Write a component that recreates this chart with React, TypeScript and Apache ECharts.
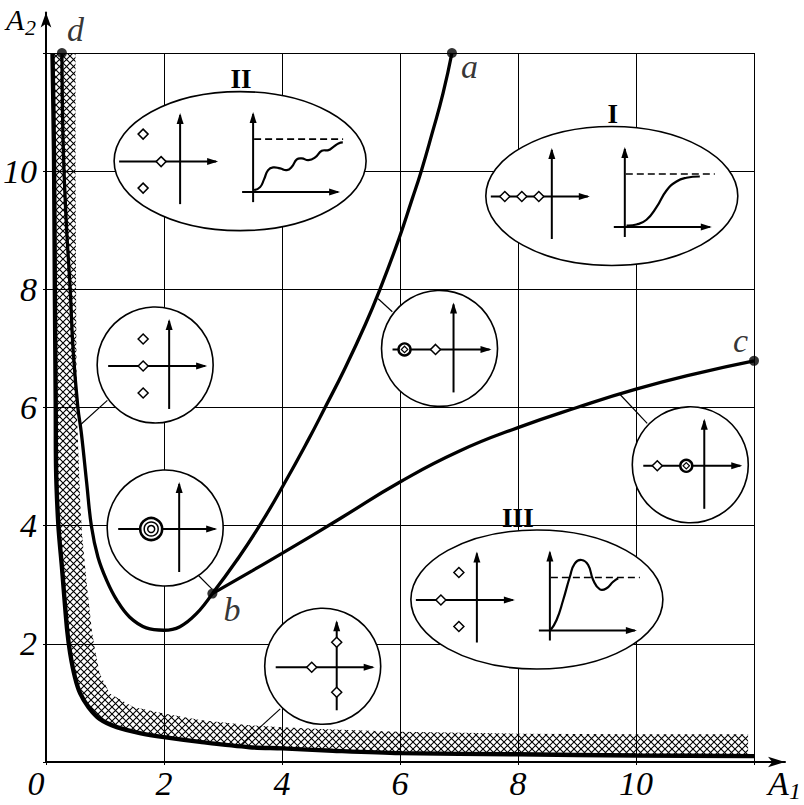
import React, { useEffect, useRef } from 'react';
import * as echarts from 'echarts';

// ---- axis ticks ----
const xTickLabels = [0, 2, 4, 6, 8, 10];
const yTickLabels = [2, 4, 6, 8, 10];

// ---- stability boundary (thick hyperbola-like curve) ----
const boundaryX = [0.11, 0.135, 0.15, 0.165, 0.17, 0.21, 0.27, 0.31, 0.36, 0.41, 0.49, 0.58, 0.72, 0.91, 1.2, 1.59, 2.0, 2.61, 3.45, 4.0, 4.86, 6.0, 8.0, 10.0, 12.0];
const boundaryY = [12.0, 10.35, 8.0, 6.0, 5.0, 4.0, 3.3, 2.8, 2.22, 1.84, 1.44, 1.16, 0.93, 0.73, 0.59, 0.49, 0.42, 0.34, 0.25, 0.23, 0.19, 0.15, 0.13, 0.11, 0.1];

// ---- upper edge of the hatched band ----
const hatchTopX = [0.15, 0.5, 0.5, 0.51, 0.52, 0.58, 0.61, 0.69, 0.78, 0.84, 0.91, 1.08, 1.48, 2.0, 2.61, 3.45, 4.0, 4.86, 6.0, 8.0, 10.0, 11.9, 11.9];
const hatchTopY = [12.0, 12.0, 10.0, 8.0, 6.0, 4.4, 3.87, 3.02, 2.2, 1.85, 1.5, 1.16, 0.93, 0.82, 0.71, 0.62, 0.59, 0.55, 0.51, 0.48, 0.47, 0.47, 0.1];

// ---- curve d - b ----
const curveDBX = [0.27, 0.29, 0.34, 0.41, 0.46, 0.54, 0.6, 0.69, 0.77, 0.88, 1.03, 1.2, 1.42, 1.7, 2.0, 2.27, 2.55, 2.82];
const curveDBY = [12.0, 10.5, 9.2, 8.0, 6.97, 6.0, 5.56, 4.72, 3.99, 3.47, 3.07, 2.74, 2.45, 2.27, 2.23, 2.29, 2.51, 2.85];

// ---- curve b - a ----
const curveBAX = [2.82, 3.23, 3.62, 4.02, 4.45, 4.73, 5.07, 5.41, 5.66, 5.98, 6.2, 6.36, 6.55, 6.73, 6.88];
const curveBAY = [2.85, 3.41, 4.0, 4.68, 5.46, 6.0, 6.67, 7.4, 8.0, 8.85, 9.51, 10.0, 10.66, 11.32, 12.0];

// ---- curve b - c ----
const curveBCX = [2.82, 3.5, 4.0, 5.0, 6.0, 7.0, 8.0, 9.0, 10.0, 11.0, 12.0];
const curveBCY = [2.85, 3.24, 3.53, 4.13, 4.74, 5.26, 5.66, 6.0, 6.31, 6.57, 6.79];

// ---- labelled end points ----
const pointNames = ['a', 'b', 'c', 'd'];
const pointX = [6.88, 2.82, 12.0, 0.27];
const pointY = [12.0, 2.85, 6.79, 12.0];

// ---- insets (centres in data units) ----
const insetKinds = ['II', 'I', 'III', 'poles3', 'ring3', 'ringLeft', 'ringRight', 'imag'];
const insetX = [3.29, 9.59, 8.32, 1.85, 2.02, 6.67, 10.92, 4.69];
const insetY = [10.17, 9.58, 2.75, 6.72, 3.96, 7.0, 5.03, 1.62];

// ---- leader lines from curves to insets ----
const leaderX1 = [1.04, 2.58, 5.87, 10.19, 3.97];
const leaderY1 = [6.12, 3.16, 7.62, 5.73, 0.9];
const leaderX2 = [0.575, 2.81, 5.63, 9.73, 3.29];
const leaderY2 = [5.7, 2.93, 7.84, 6.22, 0.28];

const K = '#000';
const SERIF = 'Liberation Serif, serif';

const zip = (xs: number[], ys: number[]) => xs.map((x, i) => [x, ys[i]]);

const ln = (x1: number, y1: number, x2: number, y2: number, w = 2, dash?: number[]) => ({
  type: 'line',
  shape: { x1, y1, x2, y2 },
  style: { stroke: K, lineWidth: w, lineDash: dash, fill: null },
});
const arR = (x: number, y: number) => ({
  type: 'polygon',
  shape: { points: [[x, y], [x - 11, y - 3.5], [x - 11, y + 3.5]] },
  style: { fill: K },
});
const arU = (x: number, y: number) => ({
  type: 'polygon',
  shape: { points: [[x, y], [x - 3.5, y + 11], [x + 3.5, y + 11]] },
  style: { fill: K },
});
const dia = (x: number, y: number, h = 5, w = 1.5) => ({
  type: 'polygon',
  shape: { points: [[x, y - h], [x + h, y], [x, y + h], [x - h, y]] },
  style: { fill: '#fff', stroke: K, lineWidth: w },
});
const ring = (x: number, y: number, r: number, w: number) => ({
  type: 'circle',
  shape: { cx: x, cy: y, r },
  style: { fill: '#fff', stroke: K, lineWidth: w },
});
const curve = (pts: number[][]) => ({
  type: 'polyline',
  shape: { points: pts, smooth: 0.5 },
  style: { stroke: K, lineWidth: 2.2, fill: null },
});
const label = (t: string, x: number, y: number) => ({
  type: 'text',
  style: {
    text: t, x, y, fill: K,
    font: 'bold 27px ' + SERIF,
    textAlign: 'center', textVerticalAlign: 'middle', align: 'center', verticalAlign: 'middle',
  },
});

// glyph shapes of the small step-response sketches (local pixel offsets inside an ellipse)
const stepII = [[14, 29], [20, 26], [24, 18], [28, 9], [33, 6.3], [40, 7.3], [46.7, 9], [51.7, 5.7], [56.7, -1.7], [61.7, -2.7], [68.3, -1], [75, -3.7], [81.7, -10.3], [88.3, -11], [93.3, -14.3], [98.3, -17.7], [102.7, -18.7]];
const stepI = [[14.7, 29.5], [24.7, 28.5], [34.7, 23.8], [44.7, 11.2], [54.7, -5.5], [64.7, -14.5], [74.7, -18.2], [88, -19.5]];
const stepIII = [[13.7, 30.5], [19.7, 20.5], [26.3, 0.5], [33, -22.8], [38, -36.2], [44.7, -39.5], [51.3, -34.5], [56.3, -19.5], [63, -10.2], [69.7, -11.2], [76.3, -17.8], [81.3, -21.2]];

function ellipseInset(name: string, labelDx: number, poles: any[], step: number[][]) {
  return [
    { type: 'ellipse', shape: { cx: 0, cy: 0, rx: 126, ry: 69.5 }, style: { fill: '#fff', stroke: K, lineWidth: 1.6 } },
    label(name, labelDx, -82),
    // pole plane
    ln(-121, 0.5, -24, 0.5), arR(-22, 0.5),
    ln(-60, 43, -60, -46), arU(-60, -48),
    ...poles,
    // step response plane
    ln(13, 41, 13, -47), arU(13, -49),
    ln(2, 31, 98, 31), arR(100, 31),
    ln(14, -22, 103, -22, 1.6, [7, 4]),
    curve(step),
  ];
}
function circleInset(extra: any[]) {
  return [
    { type: 'circle', shape: { cx: 0, cy: 0, r: 58 }, style: { fill: '#fff', stroke: K, lineWidth: 1.6 } },
    ln(-47, 1, 50, 1), arR(52, 1),
    ln(14, 44, 14, -44), arU(14, -46),
    ...extra,
  ];
}
function buildInset(kind: string) {
  switch (kind) {
    case 'II':
      return ellipseInset('II', 1, [dia(-79, 0.5), dia(-97, -27), dia(-97, 27)], stepII);
    case 'I':
      return ellipseInset('I', 1, [dia(-107, 0.5), dia(-90, 0.5), dia(-73, 0.5)], stepI);
    case 'III':
      return ellipseInset('III', -19, [dia(-96, 0.5), dia(-78, -27), dia(-78, 27)], stepIII);
    case 'poles3':
      return circleInset([dia(-12, 1), dia(-12, -26), dia(-12, 28)]);
    case 'ring3':
      return circleInset([ring(-14, 1, 11, 2.6), ring(-14, 1, 7, 1.5), ring(-14, 1, 3.5, 1.5)]);
    case 'ringLeft':
      return circleInset([ring(-35, 1, 6, 2.4), dia(-35, 1, 3.2, 1.2), dia(-4, 1)]);
    case 'ringRight':
      return circleInset([dia(-33, 1), ring(-4, 1, 6, 2.4), dia(-4, 1, 3.2, 1.2)]);
    case 'imag':
    default:
      return circleInset([dia(-11, 1), dia(14, -24), dia(14, 26)]);
  }
}

export default function App() {
  const ref = useRef<HTMLDivElement>(null);
  useEffect(() => {
    const chart = echarts.init(ref.current!, null, { renderer: 'svg' });

    const cv = document.createElement('canvas');
    cv.width = 7;
    cv.height = 7;
    const g = cv.getContext('2d')!;
    g.strokeStyle = '#000';
    g.lineWidth = 1.1;
    g.beginPath();
    g.moveTo(-1, -1); g.lineTo(8, 8);
    g.moveTo(8, -1); g.lineTo(-1, 8);
    g.stroke();
    const hatchPattern: any = { image: cv, repeat: 'repeat', imageWidth: 7, imageHeight: 7 };

    const hatchPoly = [
      ...zip(hatchTopX, hatchTopY),
      ...zip(boundaryX, boundaryY).filter((p) => p[0] < 11.9).reverse(),
    ];

    const tickFont = { fontFamily: SERIF, fontStyle: 'italic', fontSize: 34, color: K };

    const option: any = {
      animation: false,
      backgroundColor: '#fff',
      grid: [
        { left: 46, top: 53, width: 708, height: 709 },
        { left: 46, top: 12.5, width: 739, height: 749.5 },
      ],
      xAxis: [
        {
          gridIndex: 0, type: 'value', min: 0, max: 12, interval: 2,
          axisLine: { show: false },
          axisTick: { show: true, length: 3, lineStyle: { color: K, width: 1 } },
          splitLine: { show: true, lineStyle: { color: K, width: 1 } },
          axisLabel: {
            ...tickFont, margin: 4,
            formatter: (v: number) => (xTickLabels.includes(v) ? (v === 0 ? '{z|0}' : String(v)) : ''),
            rich: { z: { ...tickFont, padding: [0, 20, 0, 0] } },
          },
        },
        {
          gridIndex: 1, type: 'value', min: 0, max: 1,
          axisLine: { show: true, onZero: false, symbol: ['none', 'arrow'], symbolSize: [8, 17], lineStyle: { color: K, width: 2 } },
          axisTick: { show: false }, axisLabel: { show: false }, splitLine: { show: false },
        },
      ],
      yAxis: [
        {
          gridIndex: 0, type: 'value', min: 0, max: 12, interval: 2,
          axisLine: { show: false },
          axisTick: { show: true, length: 3, lineStyle: { color: K, width: 1 } },
          splitLine: { show: true, lineStyle: { color: K, width: 1 } },
          axisLabel: {
            ...tickFont, margin: 9,
            formatter: (v: number) => (yTickLabels.includes(v) ? String(v) : ''),
          },
        },
        {
          gridIndex: 1, type: 'value', min: 0, max: 1,
          axisLine: { show: true, onZero: false, symbol: ['none', 'arrow'], symbolSize: [8, 15], lineStyle: { color: K, width: 2 } },
          axisTick: { show: false }, axisLabel: { show: false }, splitLine: { show: false },
        },
      ],
      graphic: [
        { type: 'text', left: 6, top: 4, style: { text: 'A', font: 'italic 30px ' + SERIF, fill: K } },
        { type: 'text', left: 25, top: 16, style: { text: '2', font: 'italic 22px ' + SERIF, fill: K } },
        { type: 'text', left: 768, top: 766, style: { text: 'A', font: 'italic 34px ' + SERIF, fill: K } },
        { type: 'text', left: 789, top: 779, style: { text: '1', font: 'italic 24px ' + SERIF, fill: K } },
      ],
      series: [
        {
          type: 'custom', name: 'hatch', xAxisIndex: 0, yAxisIndex: 0, z: 2, silent: true,
          data: [[0, 0]],
          renderItem: (params: any, api: any) => ({
            type: 'polygon',
            shape: { points: hatchPoly.map((p) => api.coord(p)) },
            style: { fill: hatchPattern, stroke: null },
          }),
        },
        {
          type: 'line', name: 'boundary', data: zip(boundaryX, boundaryY), symbol: 'none', smooth: 0.3,
          lineStyle: { color: K, width: 4.4 }, z: 3, silent: true,
        },
        {
          type: 'line', name: 'd-b', data: zip(curveDBX, curveDBY), symbol: 'none', smooth: 0.4,
          lineStyle: { color: K, width: 3.3 }, z: 3, silent: true,
        },
        {
          type: 'line', name: 'b-a', data: zip(curveBAX, curveBAY), symbol: 'none', smooth: 0.5,
          lineStyle: { color: K, width: 3.3 }, z: 3, silent: true,
        },
        {
          type: 'line', name: 'b-c', data: zip(curveBCX, curveBCY), symbol: 'none', smooth: 0.5,
          lineStyle: { color: K, width: 3.3 }, z: 3, silent: true,
        },
        {
          type: 'custom', name: 'leaders', z: 4, silent: true,
          data: leaderX1.map((x, i) => [x, leaderY1[i], leaderX2[i], leaderY2[i]]),
          renderItem: (params: any, api: any) => {
            const p1 = api.coord([api.value(0), api.value(1)]);
            const p2 = api.coord([api.value(2), api.value(3)]);
            return { type: 'line', shape: { x1: p1[0], y1: p1[1], x2: p2[0], y2: p2[1] }, style: { stroke: K, lineWidth: 1.2 } };
          },
        },
        {
          type: 'custom', name: 'insets', z: 5, silent: true, clip: false,
          data: insetX.map((x, i) => [x, insetY[i]]),
          renderItem: (params: any, api: any) => {
            const c = api.coord([api.value(0), api.value(1)]);
            return { type: 'group', x: c[0], y: c[1], children: buildInset(insetKinds[params.dataIndex]) };
          },
        },
        {
          type: 'scatter', name: 'points', z: 6, silent: true, symbolSize: 10,
          itemStyle: { color: K },
          data: pointNames.map((n, i) => ({
            name: n,
            value: [pointX[i], pointY[i]],
          })),
          label: {
            show: true, position: 'inside',
            formatter: (p: any) => p.name,
            fontFamily: SERIF, fontStyle: 'italic', fontSize: 34, color: K,
          },
          labelLayout: (p: any) => {
            const off = [[14, 1], [16, 4], [-16, -32], [10, -36]][p.dataIndex];
            const r = p.rect;
            return { x: r.x + off[0], y: r.y + off[1] };
          },
        },
      ],
    };
    chart.setOption(option);
    return () => chart.dispose();
  }, []);
  return (
    <div
      ref={ref}
      style={{ position: 'fixed', left: 0, top: 0, width: 804, height: 805, background: '#fff' }}
    />
  );
}
